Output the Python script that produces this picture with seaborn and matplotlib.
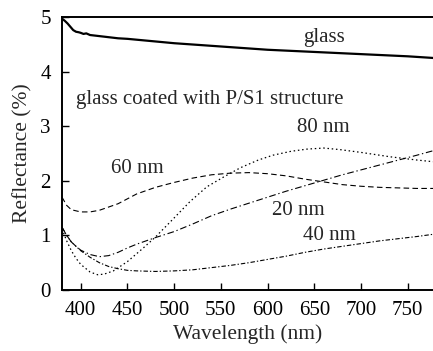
import matplotlib
matplotlib.use("Agg")
import matplotlib.pyplot as plt
import seaborn as sns
import numpy as np

# ---- data ----
glass_wl = [380, 383, 386, 389, 392, 395, 398, 400, 403, 406, 410, 420, 430, 440, 450,
            475, 500, 525, 550, 575, 600, 625, 650, 675, 700, 725, 750, 777]
glass_r = [4.97, 4.93, 4.88, 4.82, 4.76, 4.73, 4.72, 4.71, 4.69, 4.70, 4.67, 4.65, 4.63, 4.61, 4.60,
           4.56, 4.52, 4.49, 4.46, 4.43, 4.40, 4.38, 4.36, 4.34, 4.32, 4.30, 4.28, 4.25]

nm60_wl = [380, 385, 390, 400, 410, 420, 440, 460, 480, 500, 520, 540, 560, 580, 600, 620,
           640, 660, 680, 700, 720, 740, 760, 777]
nm60_r = [1.70, 1.55, 1.47, 1.43, 1.43, 1.46, 1.58, 1.76, 1.88, 1.97, 2.05, 2.11, 2.14, 2.15,
          2.13, 2.09, 2.03, 1.98, 1.93, 1.90, 1.88, 1.87, 1.86, 1.86]

nm20_wl = [380, 385, 390, 395, 400, 410, 420, 430, 440, 450, 460, 480, 500, 520, 540, 560,
           580, 600, 620, 640, 660, 680, 700, 720, 740, 760, 777]
nm20_r = [1.15, 1.00, 0.88, 0.80, 0.73, 0.65, 0.61, 0.63, 0.69, 0.77, 0.84, 0.96, 1.07, 1.21,
          1.36, 1.48, 1.59, 1.70, 1.81, 1.91, 2.01, 2.11, 2.20, 2.29, 2.38, 2.47, 2.55]

nm80_wl = [380, 385, 390, 395, 400, 410, 418, 425, 435, 450, 467, 480, 500, 517, 535, 553,
           571, 590, 606, 625, 642, 660, 678, 700, 731, 760, 777]
nm80_r = [1.12, 0.90, 0.72, 0.58, 0.47, 0.33, 0.28, 0.29, 0.35, 0.52, 0.77, 0.97, 1.32, 1.62,
          1.89, 2.07, 2.24, 2.38, 2.47, 2.54, 2.58, 2.60, 2.57, 2.52, 2.44, 2.38, 2.35]

nm40_wl = [380, 385, 390, 400, 410, 420, 430, 440, 450, 460, 480, 500, 520, 540, 560, 580,
           600, 620, 640, 660, 680, 700, 720, 740, 760, 777]
nm40_r = [1.15, 1.00, 0.88, 0.72, 0.60, 0.50, 0.43, 0.39, 0.36, 0.35, 0.34, 0.35, 0.37, 0.41,
          0.45, 0.50, 0.56, 0.62, 0.69, 0.75, 0.80, 0.85, 0.90, 0.94, 0.98, 1.02]

x_ticks = [400, 450, 500, 550, 600, 650, 700, 750]
y_ticks = [0, 1, 2, 3, 4, 5]

sns.set_style("ticks")
plt.rcParams['font.family'] = ['Liberation Serif', 'DejaVu Serif']

fig = plt.figure(figsize=(4.33, 3.51), dpi=100)
ax = fig.add_axes([62 / 433, 1 - 290 / 351, 1 - 62 / 433, (290 - 17) / 351])

series = [
    (glass_wl, glass_r, '-', 1.6),
    (nm60_wl, nm60_r, (0, (5, 3)), 0.8),
    (nm20_wl, nm20_r, (0, (6, 2.5, 1.2, 2.5)), 0.8),
    (nm80_wl, nm80_r, (0, (1.2, 2.2)), 0.9),
    (nm40_wl, nm40_r, (0, (4, 1.8, 1.2, 1.8)), 0.8),
]
for wl, r, ls, lw in series:
    sns.lineplot(x=wl, y=r, ax=ax, color='black', linestyle=ls, linewidth=lw)

fs = 15
ax.set_xlim(380, 777)
ax.set_ylim(0, 5)
ax.set_xticks(x_ticks)
ax.set_yticks(y_ticks)
ax.tick_params(direction='in', length=5, width=1.0, labelsize=fs, pad=8, colors='black')
for s in ['left', 'bottom', 'top']:
    ax.spines[s].set_linewidth(1.4)
    ax.spines[s].set_color('black')
ax.spines['right'].set_visible(False)

ax.set_xlabel('Wavelength (nm)', fontsize=fs + 0.5, labelpad=3)
ax.set_ylabel('Reflectance (%)', fontsize=fs + 0.5, labelpad=6)

ax.text(660, 4.63, 'glass', fontsize=fs, ha='center', va='center')
ax.text(395, 3.48, 'glass coated with P/S1 structure', fontsize=fs, ha='left', va='center')
ax.text(660, 2.97, '80 nm', fontsize=fs, ha='center', va='center')
ax.text(461, 2.23, '60 nm', fontsize=fs, ha='center', va='center')
ax.text(633, 1.45, '20 nm', fontsize=fs, ha='center', va='center')
ax.text(666, 0.99, '40 nm', fontsize=fs, ha='center', va='center')

fig.savefig('out.png', dpi=100)
